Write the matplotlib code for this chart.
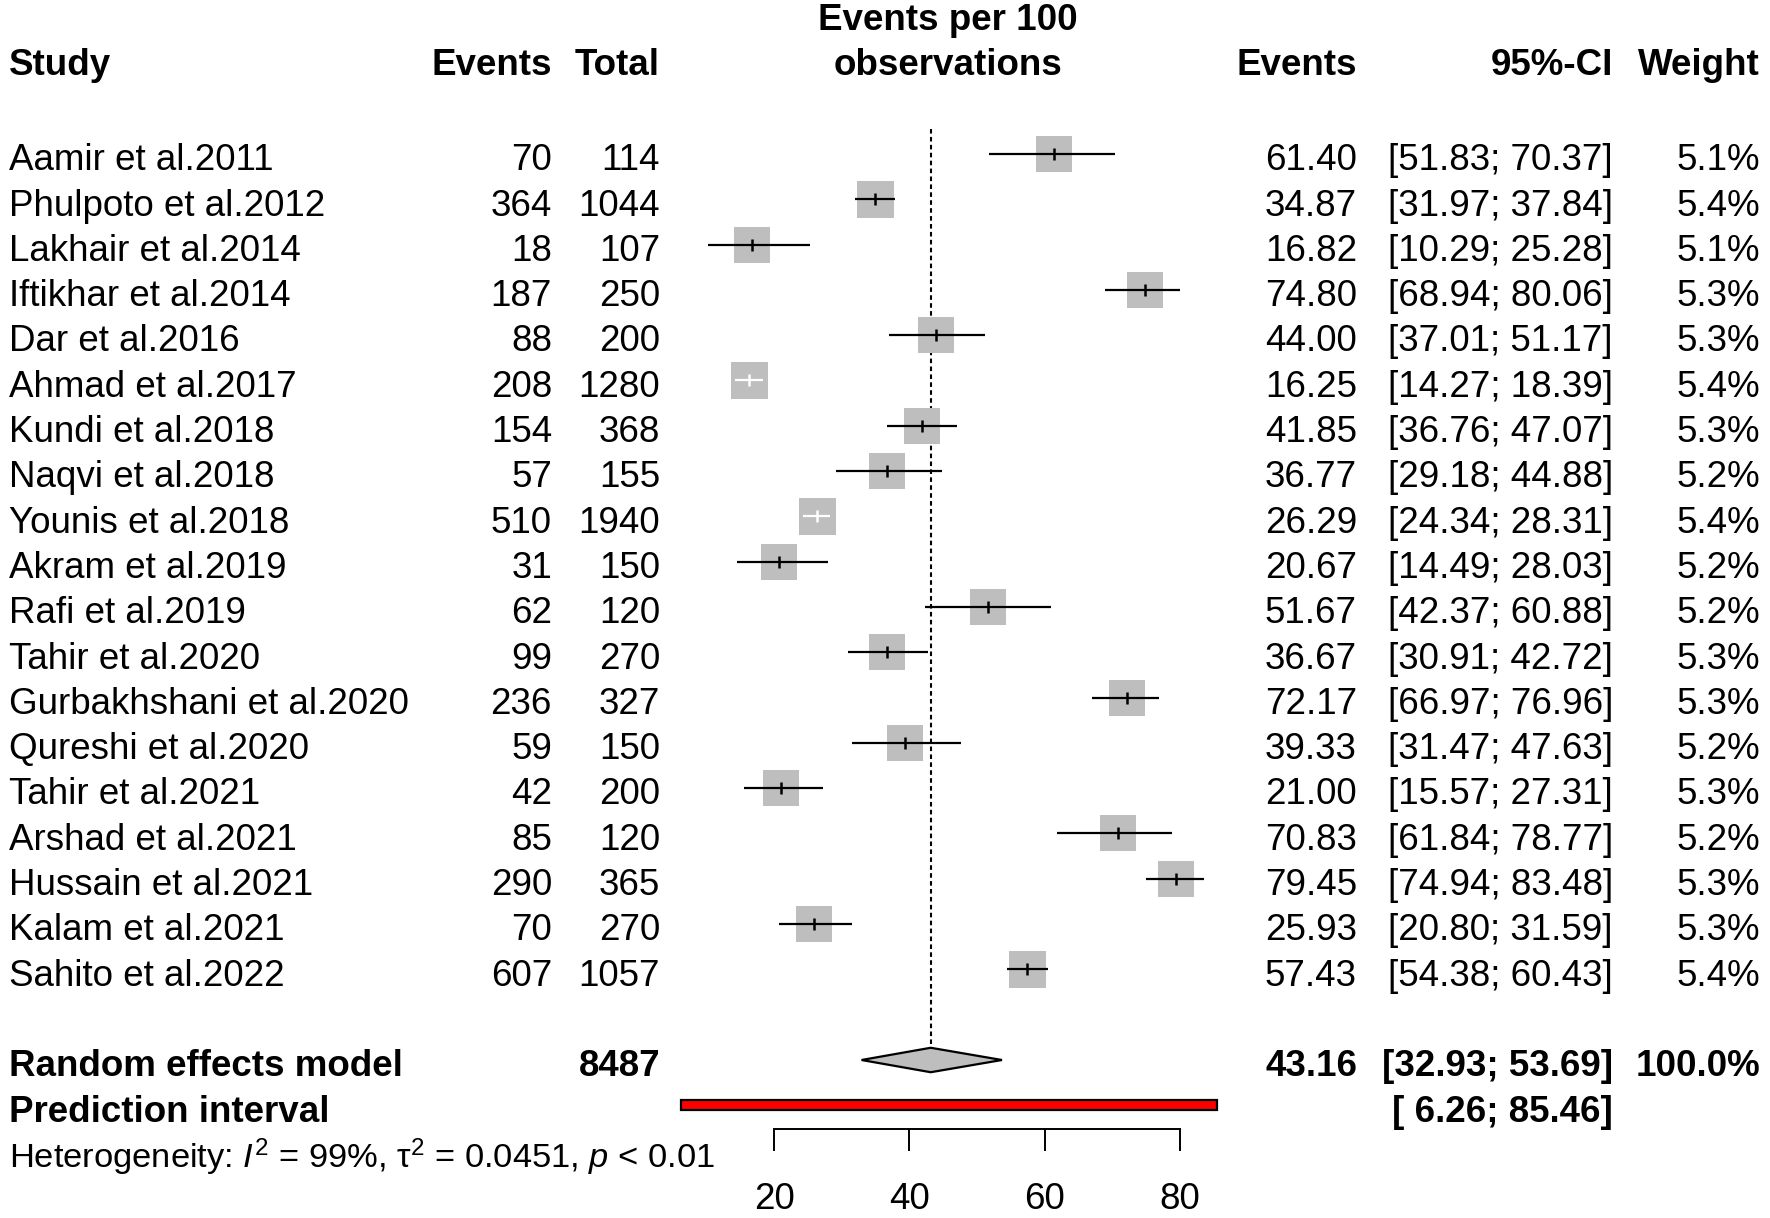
import matplotlib
matplotlib.use("Agg")
import matplotlib.pyplot as plt
from matplotlib import transforms
from matplotlib.patches import Polygon, Rectangle
import numpy as np

plt.rcParams['font.family'] = ['Liberation Sans', 'DejaVu Sans']
plt.rcParams['mathtext.fontset'] = 'custom'
plt.rcParams['mathtext.rm'] = 'Liberation Sans'
plt.rcParams['mathtext.it'] = 'Liberation Sans:italic'
plt.rcParams['mathtext.bf'] = 'Liberation Sans:bold'

# ---------------- data ----------------
studies = ["Aamir et al.2011", "Phulpoto et al.2012", "Lakhair et al.2014",
           "Iftikhar et al.2014", "Dar et al.2016", "Ahmad et al.2017",
           "Kundi et al.2018", "Naqvi et al.2018", "Younis et al.2018",
           "Akram et al.2019", "Rafi et al.2019", "Tahir et al.2020",
           "Gurbakhshani et al.2020", "Qureshi et al.2020", "Tahir et al.2021",
           "Arshad et al.2021", "Hussain et al.2021", "Kalam et al.2021",
           "Sahito et al.2022"]
events = [70, 364, 18, 187, 88, 208, 154, 57, 510, 31, 62, 99, 236, 59, 42, 85, 290, 70, 607]
totals = [114, 1044, 107, 250, 200, 1280, 368, 155, 1940, 150, 120, 270, 327, 150, 200, 120, 365, 270, 1057]
est = [61.40, 34.87, 16.82, 74.80, 44.00, 16.25, 41.85, 36.77, 26.29, 20.67,
       51.67, 36.67, 72.17, 39.33, 21.00, 70.83, 79.45, 25.93, 57.43]
ci_lo = [51.83, 31.97, 10.29, 68.94, 37.01, 14.27, 36.76, 29.18, 24.34, 14.49,
         42.37, 30.91, 66.97, 31.47, 15.57, 61.84, 74.94, 20.80, 54.38]
ci_hi = [70.37, 37.84, 25.28, 80.06, 51.17, 18.39, 47.07, 44.88, 28.31, 28.03,
         60.88, 42.72, 76.96, 47.63, 27.31, 78.77, 83.48, 31.59, 60.43]
weights = [5.1, 5.4, 5.1, 5.3, 5.3, 5.4, 5.3, 5.2, 5.4, 5.2, 5.2, 5.3, 5.3, 5.2, 5.3, 5.2, 5.3, 5.3, 5.4]

re_total = 8487
re_est, re_lo, re_hi = 43.16, 32.93, 53.69
pi_lo, pi_hi = 6.26, 85.46
xticks = [20, 40, 60, 80]
het_text = r"Heterogeneity: $\mathit{I}^2$ = 99%, $\mathrm{\tau}^2$ = 0.0451, $\mathit{p}$ < 0.01"

# ---------------- layout ----------------
W, H = 1770, 1218
fig = plt.figure(figsize=(W / 100, H / 100), dpi=100)
ax = fig.add_axes([0, 0, 1, 1])

px_per_unit = 6.767
x20_px = 774.0
ax.set_xlim(20 - x20_px / px_per_unit, 20 + (W - x20_px) / px_per_unit)
row1_px, row_step = 154.0, 45.3
ax.set_ylim(1 + (H - row1_px) / row_step, 1 - row1_px / row_step)

for s in ['left', 'right', 'top']:
    ax.spines[s].set_visible(False)
ax.set_yticks([])
ax.spines['bottom'].set_position(('data', 22.52))
ax.spines['bottom'].set_bounds(min(xticks), max(xticks))
ax.spines['bottom'].set_linewidth(1.4)
ax.set_xticks(xticks)
ax.set_xticklabels([str(t) for t in xticks])
ax.tick_params(axis='x', direction='out', length=16, width=1.4, pad=22, labelsize=26.5)

FS = 26.5
TOFF = 0.15   # text offset for rows (rows)
HOFF = 0.05   # text offset for header lines
tr = transforms.blended_transform_factory(ax.transAxes, ax.transData)

def fx(px):
    return px / W

col_study = fx(9)
col_ev = fx(552)
col_tot = fx(660)
col_est = fx(1357)
col_ci = fx(1613)
col_w = fx(1760)
col_mid = fx(948)

# headers
hdr = dict(transform=tr, fontsize=FS, fontweight='bold', va='center')
ax.text(col_study, -1 + HOFF, "Study", ha='left', **hdr)
ax.text(col_ev, -1 + HOFF, "Events", ha='right', **hdr)
ax.text(col_tot, -1 + HOFF, "Total", ha='right', **hdr)
ax.text(col_mid, -2 + HOFF, "Events per 100", ha='center', **hdr)
ax.text(col_mid, -1 + HOFF, "observations", ha='center', **hdr)
ax.text(col_est, -1 + HOFF, "Events", ha='right', **hdr)
ax.text(col_ci, -1 + HOFF, "95%-CI", ha='right', **hdr)
ax.text(col_w, -1 + HOFF, "Weight", ha='right', **hdr)

rows = np.arange(1, len(studies) + 1)
norm = dict(transform=tr, fontsize=FS, va='center')
for r, s, e, t, m, l, h, w in zip(rows, studies, events, totals, est, ci_lo, ci_hi, weights):
    ty = r + TOFF
    ax.text(col_study, ty, s, ha='left', **norm)
    ax.text(col_ev, ty, f"{e}", ha='right', **norm)
    ax.text(col_tot, ty, f"{t}", ha='right', **norm)
    ax.text(col_est, ty, f"{m:.2f}", ha='right', **norm)
    ax.text(col_ci, ty, f"[{l:5.2f}; {h:5.2f}]", ha='right', **norm)
    ax.text(col_w, ty, f"{w:.1f}%", ha='right', **norm)

# squares & CIs
max_w = max(weights)
side_px = [37 * np.sqrt(w / max_w) for w in weights]
for r, m, l, h, sp in zip(rows, est, ci_lo, ci_hi, side_px):
    half = sp / 2 / px_per_unit
    ax.scatter([m], [r], marker='s', s=(sp * 0.72) ** 2, color='#bebebe',
               linewidths=0, zorder=2)
    inside = (l >= m - half) and (h <= m + half)
    c = 'white' if inside else 'black'
    ax.hlines(r, l, h, color=c, lw=1.6, zorder=3)
    ax.plot([m], [r], marker='|', markersize=9, mew=1.8, color=c, zorder=4)

# summary row
rr = len(studies) + 2
bold = dict(transform=tr, fontsize=FS, fontweight='bold', va='center')
ax.text(col_study, rr + TOFF, "Random effects model", ha='left', **bold)
ax.text(col_tot, rr + TOFF, f"{re_total}", ha='right', **bold)
ax.text(col_est, rr + TOFF, f"{re_est:.2f}", ha='right', **bold)
ax.text(col_ci, rr + TOFF, f"[{re_lo:.2f}; {re_hi:.2f}]", ha='right', **bold)
ax.text(col_w, rr + TOFF, "100.0%", ha='right', **bold)
dh = 0.27
ax.add_patch(Polygon([(re_lo, rr), (re_est, rr - dh), (re_hi, rr), (re_est, rr + dh)],
                     closed=True, facecolor='#bebebe', edgecolor='black', lw=1.6, zorder=3))

# reference line
ax.vlines(re_est, 0.45, rr - dh, colors='black', linestyles=(0, (2.2, 1.6)), lw=1.5, zorder=1)

# prediction interval
pr = rr + 1
ax.text(col_study, pr + TOFF, "Prediction interval", ha='left', **bold)
ax.text(col_ci, pr + TOFF, f"[{pi_lo:5.2f}; {pi_hi:5.2f}]", ha='right', **bold)
ph = 0.11
ax.add_patch(Rectangle((pi_lo, pr - ph), pi_hi - pi_lo, 2 * ph,
                       facecolor='red', edgecolor='black', lw=1.6, zorder=3))

# heterogeneity
ax.text(col_study, pr + 1 + TOFF, het_text, ha='left', transform=tr, fontsize=24.8, va='center')

fig.savefig("out.png", dpi=100)
